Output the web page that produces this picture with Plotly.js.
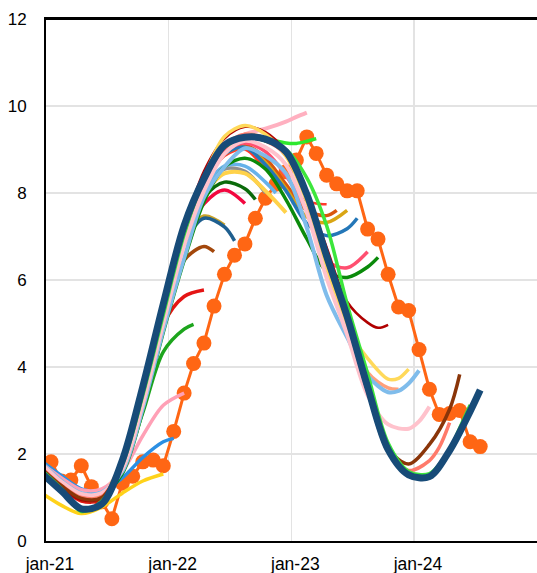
<!DOCTYPE html>
<html>
<head>
<meta charset="utf-8">
<script src="https://cdn.plot.ly/plotly-3.0.1.min.js"></script>
<style>html,body{margin:0;padding:0;background:#fff;}#chart{width:537px;height:573px;}</style>
</head>
<body>
<div id="chart"></div>
<script>
// x-axis tick labels
const tickDates = ['2021-01-01', '2022-01-01', '2023-01-01', '2024-01-01'];
const tickLabels = ['jan-21', 'jan-22', 'jan-23', 'jan-24'];

// Outcome (monthly)
const actualMonths = ['2021-01','2021-02','2021-03','2021-04','2021-05','2021-06','2021-07','2021-08','2021-09','2021-10','2021-11','2021-12',
  '2022-01','2022-02','2022-03','2022-04','2022-05','2022-06','2022-07','2022-08','2022-09','2022-10','2022-11','2022-12',
  '2023-01','2023-02','2023-03','2023-04','2023-05','2023-06','2023-07','2023-08','2023-09','2023-10','2023-11','2023-12',
  '2024-01','2024-02','2024-03','2024-04','2024-05','2024-06','2024-07'];
const actualValues = [1.82,1.38,1.40,1.73,1.25,0.9,0.51,1.33,1.49,1.82,1.86,1.73,
  2.52,3.40,4.08,4.55,5.40,6.13,6.57,6.83,7.42,7.88,8.2,8.49,
  8.76,9.29,8.91,8.41,8.21,8.05,8.05,7.17,6.94,6.13,5.38,5.30,
  4.40,3.49,2.91,2.93,3.00,2.28,2.17];

// Forecast paths: common two-monthly points, then each path's own monthly tail
const gridMonths = ['2020-12','2021-02','2021-04','2021-06','2021-08','2021-10','2021-12',
  '2022-02','2022-04','2022-06','2022-08','2022-10','2022-12',
  '2023-02','2023-04','2023-06','2023-08','2023-10','2023-12',
  '2024-02','2024-04','2024-06'];

const fcValues = [
  [1.12,0.82,0.63,0.78,1.1,1.38,1.54],
  [1.85,1.5,1.2,1.15,1.45,1.92,2.28,2.36],
  [1.8,1.45,1.18,1.2,1.6,2.42,3.12,3.4],
  [1.72,1.35,1.08,1.05,1.62,2.95,4.35,4.87,4.98],
  [1.62,1.22,0.92,0.95,1.68,3.2,4.98,5.62,5.77],
  [1.65,1.25,0.95,0.98,1.7,3.25,5.05,6.45,6.77,6.65],
  [1.7,1.28,1.0,1.0,1.72,3.3,5.1,6.85,7.47,7.26],
  [1.7,1.28,1.0,1.0,1.72,3.3,5.1,6.82,7.42,7.22,6.9],
  [1.68,1.26,0.98,1.0,1.75,3.35,5.2,6.9,7.75,8.07,7.76],
  [1.7,1.28,1.0,1.02,1.8,3.4,5.25,7.0,7.9,8.25,8.1,7.85],
  [1.72,1.3,1.02,1.03,1.8,3.42,5.28,7.05,8.05,8.55,8.5,8.0],
  [1.75,1.32,1.04,1.05,1.8,3.4,5.25,7.05,8.1,8.62,8.62,8.25,8.0],
  [1.72,1.3,1.02,1.03,1.8,3.42,5.25,7.0,7.95,8.45,8.45,8.05,7.55],
  [1.78,1.35,1.08,1.1,1.8,3.4,5.25,7.1,8.25,9.05,9.35,9.48,9.64,9.75,9.85],
  [1.68,1.2,0.72,0.9,1.78,3.4,5.25,7.05,8.2,8.95,9.28,9.25,9.15,9.14,9.19,9.25],
  [1.65,1.25,0.96,1.0,1.75,3.35,5.2,7.0,8.15,8.85,9.0,8.55,8.12,7.82,7.76,7.74],
  [1.66,1.26,0.97,1.0,1.76,3.35,5.2,7.0,8.2,8.95,9.1,8.8,8.2,7.6,7.48,7.6],
  [1.68,1.27,0.98,1.0,1.77,3.38,5.22,7.0,8.2,8.9,9.05,8.7,8.1,7.45,7.32,7.6],
  [1.7,1.28,1.0,1.02,1.78,3.38,5.22,7.02,8.2,8.9,9.05,8.65,8.05,7.3,7.02,7.18,7.42],
  [1.7,1.28,1.0,1.02,1.78,3.38,5.22,7.02,8.2,8.95,9.15,8.95,8.4,7.6,6.45,6.28,6.65],
  [1.75,1.32,1.05,1.05,1.55,3.0,4.8,6.45,7.8,8.6,8.8,8.55,7.85,6.95,6.2,6.06,6.3,6.52],
  [1.62,1.22,0.94,0.98,1.78,3.45,5.35,7.2,8.5,9.25,9.52,9.4,8.95,8.0,6.75,5.5,5.02,4.9,4.97],
  [1.72,1.3,1.02,1.04,1.75,3.3,5.15,7.0,8.25,9.05,9.35,9.25,8.85,7.85,6.45,5.0,3.88,3.52,3.49],
  [1.72,1.3,1.02,1.04,1.85,3.48,5.3,7.1,8.35,9.3,9.55,9.35,8.85,7.8,6.3,4.9,4.2,3.72,3.74,3.95],
  [1.82,1.38,1.1,1.12,1.6,3.05,4.85,6.5,7.9,8.6,9.03,8.85,8.45,7.2,5.65,4.68,3.8,3.42,3.45,3.62,3.92],
  [1.8,1.36,1.08,1.1,1.65,3.15,5.0,6.8,8.05,8.9,9.2,9.05,8.65,7.55,6.05,4.75,3.35,2.68,2.58,2.75,3.09],
  [1.7,1.28,1.0,1.02,1.8,3.4,5.25,7.1,8.3,9.1,9.35,9.2,8.9,7.9,6.45,5.05,3.45,2.05,1.62,1.85,2.15,2.72],
  [1.68,1.27,0.98,1.0,1.8,3.45,5.3,7.1,8.3,9.05,9.3,9.2,8.95,7.95,6.5,5.1,3.45,2.12,1.77,2.22,3.03,3.83],
  [1.65,1.2,0.68,0.92,1.75,3.35,5.2,7.05,8.3,9.05,9.3,9.2,9.0,8.35,7.25,5.45,3.85,2.25,1.6,1.55,2.1,2.6,3.13],
  [1.58,1.15,0.74,0.85,1.85,3.55,5.45,7.25,8.33,9.1,9.28,9.24,8.95,7.97,6.55,5.16,3.54,2.1,1.52,1.48,2.08,2.98,3.47]
];
const fcTails = [
  [], ['2022-01'], [], ['2022-03'], [], ['2022-05'], [], ['2022-07'], [], ['2022-09'], [],
  ['2022-11'], [], ['2023-01','2023-02'], ['2023-01','2023-02','2023-03'], ['2023-03','2023-04'],
  ['2023-05'], [], ['2023-07'], [], ['2023-09'], ['2023-09','2023-10'], ['2023-11'],
  ['2023-11','2023-12'], ['2023-11','2023-12','2024-01'], ['2024-01','2024-02'],
  ['2024-03','2024-04'], ['2024-05'], ['2024-05','2024-06'], ['2024-07']
];

// styles
const fcColors = ['#FFD21A','#2B8FE3','#FFA0B6','#1DA51D','#E41414','#A3470B','#C9A227','#1F5F8F',
  '#F2073F','#0B6B0B','#8F8F8F','#66B2EA','#FFD24A','#FFB0C0','#2EE82E','#FF3A2A','#D9560E',
  '#D9A514','#2477B8','#FF4F70','#0A8A0A','#B00000','#FFA07A','#FFD95A','#7FBCEB','#FFC2CC',
  '#FF7A6B','#8A3509','#3CE63C','#174B78'];
const fcWidths = [3.5,3.5,3.5,3.5,3.5,3.5,3.5,3.5,3.5,3.5,3.5,3.5,4,4,3.5,2.5,3.5,3.5,3.5,3.5,3.5,2.5,3.5,3.5,4,4,3.5,3.5,3.5,7];
const actualColor = '#FF6614';

function mid(m) { return m + '-16'; }

const traces = [{
  x: actualMonths.map(mid), y: actualValues, type: 'scatter', mode: 'lines+markers',
  line: {color: actualColor, width: 3},
  marker: {color: actualColor, size: 15},
  hoverinfo: 'skip'
}];
fcValues.forEach((vals, i) => {
  const tail = fcTails[i];
  const n = vals.length - tail.length;
  const xs = gridMonths.slice(0, n).concat(tail).map(mid);
  traces.push({
    x: xs, y: vals, type: 'scatter', mode: 'lines',
    line: {color: fcColors[i], width: fcWidths[i], shape: 'spline', smoothing: 0.9},
    hoverinfo: 'skip'
  });
});

const font = {family: 'Liberation Sans, Arial, sans-serif', size: 17, color: '#000'};
const layout = {
  width: 537, height: 573,
  margin: {l: 46, r: 0, t: 19, b: 32},
  paper_bgcolor: '#fff', plot_bgcolor: '#fff',
  showlegend: false,
  font: font,
  xaxis: {
    type: 'date', range: ['2021-01-01', '2025-01-01'],
    tickvals: tickDates, ticktext: tickLabels,
    showgrid: true, gridcolor: '#E3E3E3', gridwidth: 1.5,
    showline: true, linecolor: '#000', linewidth: 2, mirror: 'all',
    zeroline: false, ticks: '', ticklabelstandoff: 6, ticklabelshift: 4,
    tickfont: {family: font.family, size: 17.5, color: '#000'}
  },
  yaxis: {
    range: [0, 12], dtick: 2, tick0: 0,
    showgrid: true, gridcolor: '#E3E3E3', gridwidth: 1.5,
    showline: true, linecolor: '#000', linewidth: 2, mirror: false,
    zeroline: false, ticks: '', ticklabelstandoff: 14,
    tickfont: font
  },
  shapes: [{type: 'line', xref: 'paper', yref: 'paper', x0: 0, x1: 1, y0: 1, y1: 1,
    line: {color: '#000', width: 2}, layer: 'above'}]
};
Plotly.newPlot('chart', traces, layout, {displayModeBar: false, staticPlot: true});
</script>
</body>
</html>
